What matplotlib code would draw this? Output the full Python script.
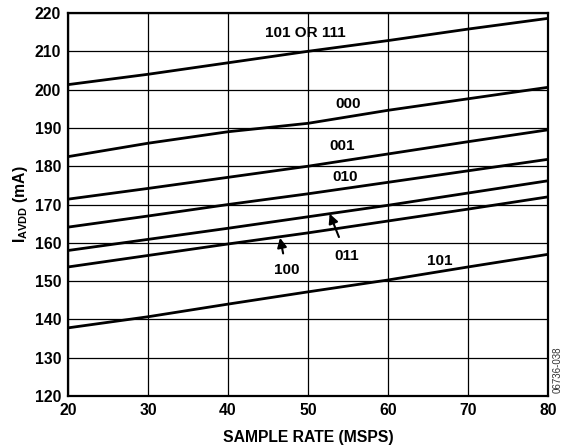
import matplotlib
matplotlib.use("Agg")
import matplotlib.pyplot as plt

plt.rcParams['font.family'] = ['Liberation Sans', 'DejaVu Sans']
plt.rcParams['font.weight'] = 'bold'
plt.rcParams['mathtext.fontset'] = 'custom'
plt.rcParams['mathtext.rm'] = 'Liberation Sans:bold'
plt.rcParams['mathtext.bf'] = 'Liberation Sans:bold'
plt.rcParams['mathtext.it'] = 'Liberation Sans:bold'

sample_rate = [20, 30, 40, 50, 60, 70, 80]
i_101_or_111 = [201.3, 204.0, 207.0, 210.0, 212.8, 215.8, 218.6]
i_000 = [182.5, 186.0, 189.0, 191.2, 194.6, 197.6, 200.6]
i_001 = [171.4, 174.2, 177.1, 180.0, 183.2, 186.4, 189.5]
i_010 = [164.1, 167.0, 170.0, 172.8, 175.8, 178.8, 181.8]
i_011 = [158.0, 160.9, 163.8, 166.8, 169.8, 173.0, 176.2]
i_100 = [153.7, 156.7, 159.7, 162.6, 165.7, 168.8, 172.0]
i_101 = [137.8, 140.7, 144.0, 147.2, 150.3, 153.7, 157.0]

series = [i_101_or_111, i_000, i_001, i_010, i_011, i_100, i_101]

fig = plt.figure(figsize=(5.65, 4.45), dpi=100)
ax = fig.add_axes([0.1204, 0.110, 0.8496, 0.8608])

for s in series:
    ax.plot(sample_rate, s, color='black', lw=2.0, solid_capstyle='butt', zorder=3)

ax.set_xlim(20, 80)
ax.set_ylim(120, 220)
ax.set_xticks(range(20, 81, 10))
ax.set_yticks(range(120, 221, 10))
ax.grid(True, color='black', lw=0.9)
ax.set_axisbelow(True)
for sp in ax.spines.values():
    sp.set_linewidth(1.6)
ax.tick_params(axis='x', length=0, labelsize=11.3, pad=5)
ax.tick_params(axis='y', length=0, labelsize=11.3, pad=5)
for lab in ax.get_xticklabels() + ax.get_yticklabels():
    lab.set_fontweight('bold')

ax.set_xlabel('SAMPLE RATE (MSPS)', fontsize=11.3, fontweight='bold', labelpad=9)
ax.set_ylabel(r'$\mathbf{I_{AVDD}}$ (mA)', fontsize=11.3, fontweight='bold', labelpad=3)

fs = 11
ax.text(49.7, 214.7, '101 OR 111', fontsize=fs, fontweight='bold', ha='center', va='center')
ax.text(55.0, 196.2, '000', fontsize=fs, fontweight='bold', ha='center', va='center')
ax.text(54.3, 185.4, '001', fontsize=fs, fontweight='bold', ha='center', va='center')
ax.text(54.6, 177.3, '010', fontsize=fs, fontweight='bold', ha='center', va='center')
ax.text(66.5, 155.3, '101', fontsize=fs, fontweight='bold', ha='center', va='center')
ax.annotate('011', xy=(52.7, 167.6), xytext=(54.8, 156.6), fontsize=fs, fontweight='bold',
            ha='center', va='center',
            arrowprops=dict(arrowstyle='-|>', color='black', lw=1.5, mutation_scale=14,
                            shrinkA=7, shrinkB=0))
ax.annotate('100', xy=(46.5, 161.3), xytext=(47.3, 152.9), fontsize=fs, fontweight='bold',
            ha='center', va='center',
            arrowprops=dict(arrowstyle='-|>', color='black', lw=1.5, mutation_scale=14,
                            shrinkA=5, shrinkB=0))

fig.text(0.996, 0.17, '06736-038', rotation=90, fontsize=7, fontweight='normal',
         color='#333333', ha='right', va='center')

fig.savefig('out.png', dpi=100)
